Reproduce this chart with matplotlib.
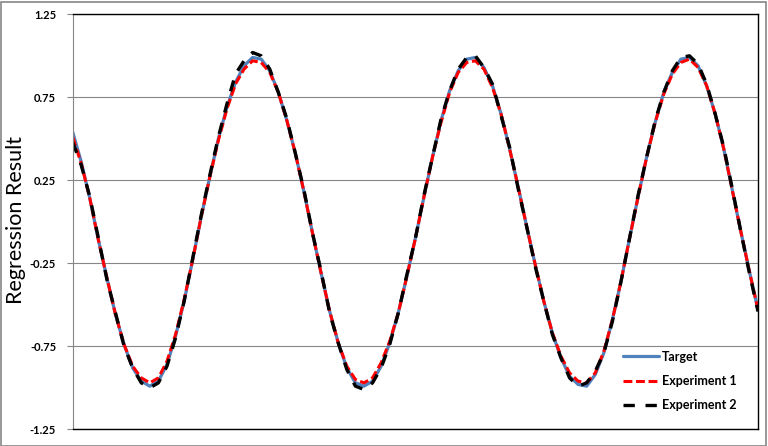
import matplotlib
matplotlib.use('Agg')
from matplotlib import pyplot as plt
from matplotlib.patches import Rectangle
import numpy as np

# values, one sample every ~8.6 px across the plot area
target = [0.54, 0.36, 0.14, -0.11, -0.34, -0.56, -0.74, -0.88, -0.96, -0.99,
          -0.96, -0.86, -0.69, -0.48, -0.23, 0.03, 0.27, 0.50, 0.69, 0.84,
          0.94, 0.99, 0.98, 0.91, 0.78, 0.61, 0.41, 0.18, -0.07, -0.31,
          -0.54, -0.73, -0.88, -0.97, -0.99, -0.96, -0.87, -0.73, -0.55, -0.33,
          -0.10, 0.15, 0.39, 0.61, 0.79, 0.91, 0.98, 0.99, 0.93, 0.82,
          0.65, 0.44, 0.21, -0.03, -0.26, -0.48, -0.67, -0.82, -0.93, -0.98,
          -0.99, -0.92, -0.79, -0.59, -0.36, -0.10, 0.15, 0.39, 0.60, 0.78,
          0.90, 0.98, 0.99, 0.94, 0.82, 0.65, 0.44, 0.19, -0.06, -0.30,
          -0.53]
experiment1 = [0.51, 0.35, 0.14, -0.11, -0.34, -0.56, -0.74, -0.87, -0.94, -0.97,
               -0.94, -0.84, -0.68, -0.47, -0.23, 0.03, 0.27, 0.49, 0.68, 0.83,
               0.92, 0.97, 0.96, 0.90, 0.78, 0.61, 0.41, 0.18, -0.07, -0.31,
               -0.54, -0.73, -0.87, -0.95, -0.97, -0.94, -0.85, -0.72, -0.55, -0.33,
               -0.10, 0.15, 0.39, 0.60, 0.78, 0.90, 0.96, 0.97, 0.92, 0.81,
               0.65, 0.44, 0.21, -0.03, -0.26, -0.48, -0.67, -0.81, -0.91, -0.96,
               -0.97, -0.91, -0.78, -0.59, -0.36, -0.10, 0.15, 0.39, 0.60, 0.77,
               0.89, 0.96, 0.98, 0.93, 0.82, 0.65, 0.44, 0.19, -0.06, -0.30,
               -0.53]
experiment2 = [0.48, 0.34, 0.15, -0.10, -0.35, -0.55, -0.75, -0.88, -0.97, -1.00,
               -0.97, -0.87, -0.70, -0.48, -0.22, 0.04, 0.28, 0.51, 0.71, 0.89,
               0.97, 1.02, 1.00, 0.92, 0.78, 0.62, 0.41, 0.19, -0.07, -0.30,
               -0.55, -0.73, -0.89, -0.99, -1.01, -0.97, -0.88, -0.74, -0.55, -0.32,
               -0.10, 0.16, 0.39, 0.62, 0.79, 0.92, 0.99, 1.00, 0.93, 0.83,
               0.64, 0.45, 0.20, -0.03, -0.27, -0.48, -0.68, -0.82, -0.94, -0.99,
               -0.97, -0.90, -0.79, -0.60, -0.36, -0.10, 0.16, 0.39, 0.61, 0.78,
               0.91, 0.99, 1.00, 0.95, 0.83, 0.65, 0.45, 0.20, -0.06, -0.31,
               -0.54]
yTicks = [-1.25, -0.75, -0.25, 0.25, 0.75, 1.25]
yTickLabels = ['-1.25', '-0.75', '-0.25', '0.25', '0.75', '1.25']

gridGray = '#868686'

fig = plt.figure(figsize=(7.68, 4.46), dpi=100)
ax = fig.add_axes([0.0947, 0.0374, 0.8923, 0.9305])

x = np.arange(len(target))
ax.plot(x, target, color='#4F81BD', lw=2.3, label='Target',
        solid_capstyle='round', solid_joinstyle='round')
ax.plot(x, experiment1, color='#FF0000', lw=2.2, linestyle=(0, (2.9, 1.2)),
        dash_joinstyle='round', label='Experiment 1')
ax.plot(x, experiment2, color='#000000', lw=2.4, linestyle=(0, (3.4, 3.2)),
        dash_joinstyle='round', label='Experiment 2')

ax.set_xlim(0, len(target) - 1)
ax.set_ylim(-1.25, 1.25)
ax.set_xticks([])
ax.set_yticks(yTicks)
ax.set_yticklabels(yTickLabels, fontfamily='Lato', fontweight='bold', fontsize=8)
ax.tick_params(axis='y', length=4, width=0.8, color=gridGray, pad=8)
ax.grid(axis='y', color=gridGray, lw=0.8)
ax.set_axisbelow(True)

for side in ['top', 'right', 'bottom']:
    ax.spines[side].set_color('black')
    ax.spines[side].set_linewidth(1.0)
ax.spines['left'].set_color(gridGray)
ax.spines['left'].set_linewidth(0.8)

fig.text(16 / 768, 1 - 220.5 / 446, 'Regression Result', rotation=90,
         ha='center', va='center', fontfamily='Lato', fontsize=15.5)

ax.legend(loc='upper left', bbox_to_anchor=(623 / 768, 1 - 350.7 / 446),
          bbox_transform=fig.transFigure, frameon=False, borderpad=0,
          borderaxespad=0, handlelength=2.9, handletextpad=0.25, labelspacing=0.99,
          prop={'family': 'Lato', 'weight': 'bold', 'size': 9})

# outer chart border
fig.patches.append(Rectangle((0.5 / 768, 0.5 / 446), 1 - 2.5 / 768, 1 - 2.5 / 446,
                             transform=fig.transFigure, fill=False,
                             edgecolor=gridGray, lw=1.2))

fig.savefig('out.png', dpi=100)
